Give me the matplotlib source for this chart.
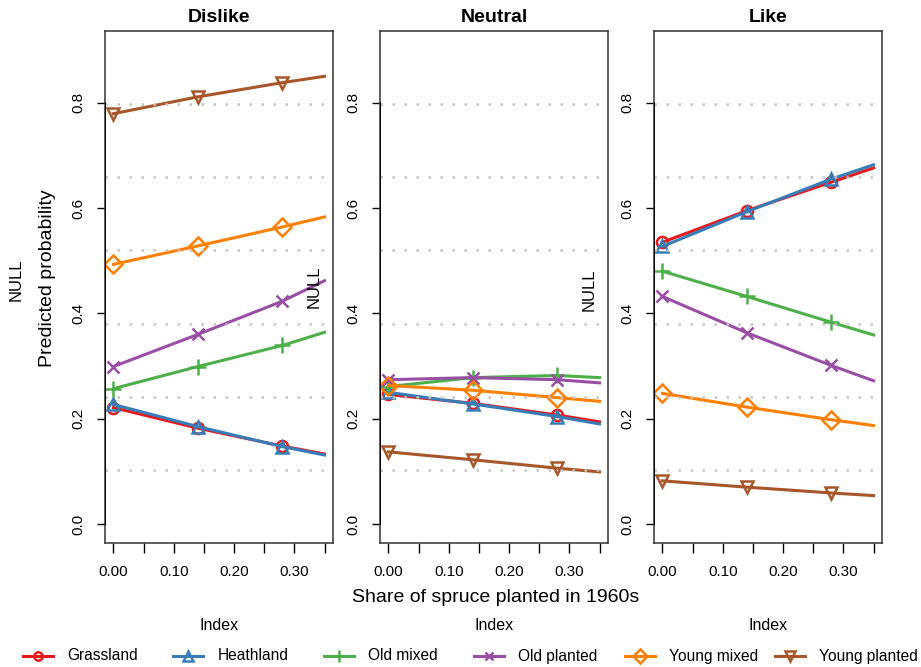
import matplotlib
matplotlib.use("Agg")
import matplotlib.pyplot as plt
import numpy as np

plt.rcParams['font.family'] = ['Liberation Sans', 'DejaVu Sans']

# share of spruce planted in 1960s (x positions of predictions)
share = [0.0, 0.14, 0.28, 0.35]

groups = ["Grassland", "Heathland", "Old mixed", "Old planted", "Young mixed", "Young planted"]
colors = ["#E41A1C", "#377EB8", "#4DAF4A", "#984EA3", "#FF7F00", "#A65628"]
markers = ["o", "^", "+", "x", "D", "v"]
msizes = [8, 9, 11, 8.5, 9.5, 9]

panels = ["Dislike", "Neutral", "Like"]

# predicted probabilities, one list per group, per panel
dislike = {
    "Grassland":     [0.221, 0.182, 0.148, 0.133],
    "Heathland":     [0.227, 0.185, 0.147, 0.131],
    "Old mixed":     [0.257, 0.299, 0.339, 0.364],
    "Old planted":   [0.299, 0.360, 0.423, 0.462],
    "Young mixed":   [0.493, 0.528, 0.564, 0.583],
    "Young planted": [0.779, 0.811, 0.838, 0.850],
}
neutral = {
    "Grassland":     [0.246, 0.229, 0.207, 0.194],
    "Heathland":     [0.250, 0.228, 0.204, 0.190],
    "Old mixed":     [0.261, 0.278, 0.282, 0.278],
    "Old planted":   [0.274, 0.278, 0.274, 0.268],
    "Young mixed":   [0.263, 0.254, 0.240, 0.233],
    "Young planted": [0.137, 0.122, 0.106, 0.099],
}
like = {
    "Grassland":     [0.535, 0.595, 0.649, 0.676],
    "Heathland":     [0.527, 0.593, 0.655, 0.682],
    "Old mixed":     [0.480, 0.432, 0.383, 0.359],
    "Old planted":   [0.432, 0.363, 0.301, 0.272],
    "Young mixed":   [0.248, 0.222, 0.198, 0.187],
    "Young planted": [0.082, 0.070, 0.059, 0.054],
}
data = [dislike, neutral, like]

W, H = 921, 667
fig = plt.figure(figsize=(W / 100, H / 100), dpi=100)

lefts = [105, 380, 654]
pw, top, bot = 228, 31, 543
xlim = (-0.014, 0.364)
ylim = (-0.036, 0.936)

axes = []
for i, (name, d) in enumerate(zip(panels, data)):
    ax = fig.add_axes([lefts[i] / W, (H - bot) / H, pw / W, (bot - top) / H])
    axes.append(ax)
    for g, c, m, ms in zip(groups, colors, markers, msizes):
        ax.plot(share, d[g], color=c, lw=2.2, marker=m, ms=ms,
                mfc="none", mec=c, mew=1.8, markevery=[0, 1, 2], zorder=2)
    ax.set_xlim(*xlim)
    ax.set_ylim(*ylim)
    # dotted grid, 7 equal cells over the plot region
    for k in range(1, 7):
        yv = ylim[0] + k * (ylim[1] - ylim[0]) / 7
        ax.axhline(yv, color="#c4c4c4", lw=1.8, ls=(0, (1, 3.8)), zorder=3)
    ax.set_xticks(np.arange(0, 0.351, 0.05))
    ax.set_xticklabels(["0.00", "", "0.10", "", "0.20", "", "0.30", ""])
    ax.set_yticks([0, 0.2, 0.4, 0.6, 0.8])
    ax.set_yticklabels(["0.0", "0.2", "0.4", "0.6", "0.8"], rotation=90, va="center")
    ax.tick_params(axis="x", length=7, width=1, pad=9, labelsize=11)
    ax.tick_params(axis="y", length=6, width=1, pad=8, labelsize=11)
    for s in ax.spines.values():
        s.set_linewidth(1.1)
        s.set_color("#333333")
    ax.axvline(xlim[0], ymin=(0 - ylim[0]) / (ylim[1] - ylim[0]),
               ymax=(0.8 - ylim[0]) / (ylim[1] - ylim[0]), color="black", lw=1.3, zorder=4)
    fig.text((lefts[i] + pw / 2) / W, 1 - 17 / H, name, ha="center", va="center",
             fontsize=14, fontweight="bold")
    fig.text((lefts[i] + pw / 2) / W, 1 - 626 / H, "Index", ha="center", va="center",
             fontsize=11.5)

# stray labels
fig.text(16 / W, 1 - 280 / H, "NULL", rotation=90, ha="center", va="center", fontsize=12)
fig.text(314 / W, 1 - 287 / H, "NULL", rotation=90, ha="center", va="center", fontsize=12)
fig.text(589 / W, 1 - 290 / H, "NULL", rotation=90, ha="center", va="center", fontsize=12)
fig.text(48 / W, 1 - 278 / H, "Predicted probability", rotation=90, ha="center",
         va="center", fontsize=14)
fig.text(496 / W, 1 - 597 / H, "Share of spruce planted in 1960s", ha="center",
         va="center", fontsize=14)

# legend along the bottom
lg = fig.add_axes([0, 0, 1, 40 / H])
lg.set_xlim(0, W)
lg.set_ylim(0, 40)
lg.axis("off")
ly = 11
for i, (g, c, m, ms) in enumerate(zip(groups, colors, markers, msizes)):
    x0 = 23 + 150.4 * i
    lg.plot([x0, x0 + 30], [ly, ly], color=c, lw=2.2)
    lg.plot([x0 + 15], [ly], color=c, marker=m, ms=ms * 0.75, mfc="none", mew=1.8)
    lg.text(x0 + 44, ly, g, ha="left", va="center", fontsize=11.2)

fig.savefig("out.png", dpi=100)
